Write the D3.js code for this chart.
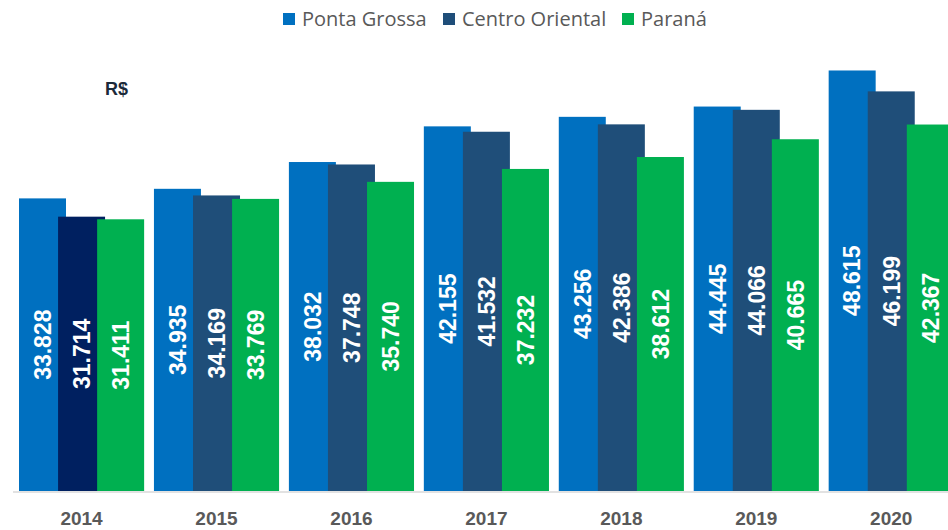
<!doctype html>
<html>
<head>
<meta charset="utf-8">
<script src="https://d3js.org/d3.v7.min.js"></script>
<style>
  body { margin: 0; background: #fff; }
  text { font-family: "Liberation Sans", Arial, sans-serif; }
</style>
</head>
<body>
<svg width="948" height="530"></svg>
<script>
// dados
var anos = ["2014", "2015", "2016", "2017", "2018", "2019", "2020"];
var series = ["Ponta Grossa", "Centro Oriental", "Paraná"];
var pontaGrossa    = [33.828, 34.935, 38.032, 42.155, 43.256, 44.445, 48.615];
var centroOriental = [31.714, 34.169, 37.748, 41.532, 42.386, 44.066, 46.199];
var parana         = [31.411, 33.769, 35.740, 37.232, 38.612, 40.665, 42.367];
var valores = [pontaGrossa, centroOriental, parana];

var cores = ["#0070C0", "#1F4E79", "#00B050"];

var svg = d3.select("svg");

var baseY = 491;

// escala dos grupos (anos)
var x0 = d3.scaleBand()
    .domain(anos)
    .range([19, 953.8])
    .paddingInner(0.0727)
    .paddingOuter(0);

var barW = 47;
// barras se sobrepõem um pouco dentro do grupo
var x1 = d3.scalePoint()
    .domain(series)
    .range([0, x0.bandwidth() - barW]);

var y = d3.scaleLinear()
    .domain([0, 50])
    .range([baseY, baseY - 50 * 8.65]);

// linha do eixo
svg.append("line")
   .attr("x1", 13).attr("x2", 948)
   .attr("y1", baseY + 1).attr("y2", baseY + 1)
   .attr("stroke", "#d9d9d9")
   .attr("stroke-width", 1.5);

var dados = [];
series.forEach(function(s, i) {
    anos.forEach(function(a, j) {
        dados.push({serie: s, idx: i, ano: a, v: valores[i][j]});
    });
});

var g = svg.append("g");

g.selectAll("rect")
 .data(dados)
 .enter()
 .append("rect")
 .attr("x", function(d) { return x0(d.ano) + x1(d.serie); })
 .attr("y", function(d) { return y(d.v); })
 .attr("width", barW)
 .attr("height", function(d) { return baseY - y(d.v); })
 .attr("fill", function(d) {
     // 2014 Centro Oriental aparece mais escuro
     if (d.idx === 1 && d.ano === "2014") return "#002060";
     return cores[d.idx];
 });

g.selectAll(".rotulo")
 .data(dados)
 .enter()
 .append("text")
 .attr("class", "rotulo")
 .attr("transform", function(d) {
     var cx = x0(d.ano) + x1(d.serie) + barW / 2;
     var cy = (y(d.v) + baseY) / 2;
     return "translate(" + cx + "," + cy + ") rotate(-90)";
 })
 .attr("text-anchor", "middle")
 .attr("dy", "0.36em")
 .attr("fill", "#fff")
 .attr("font-weight", "bold")
 .attr("font-size", "23px")
 .text(function(d) { return d.v.toFixed(3); });

// rótulos dos anos
svg.append("g")
   .selectAll("text")
   .data(anos)
   .enter()
   .append("text")
   .attr("x", function(d) { return x0(d) + x0.bandwidth() / 2; })
   .attr("y", 525)
   .attr("text-anchor", "middle")
   .attr("font-weight", "bold")
   .attr("font-size", "19px")
   .attr("fill", "#595959")
   .text(function(d) { return d; });

// R$
svg.append("text")
   .attr("x", 105).attr("y", 95)
   .attr("font-weight", "bold")
   .attr("font-size", "18px")
   .attr("fill", "#1c2a3a")
   .text("R$");

// legenda
var legX = [283, 443, 622];
var leg = svg.append("g");
series.forEach(function(s, i) {
    leg.append("rect")
       .attr("x", legX[i]).attr("y", 13)
       .attr("width", 12).attr("height", 12)
       .attr("fill", cores[i]);
    leg.append("text")
       .attr("x", legX[i] + 19).attr("y", 26)
       .style("font-family", "'Open Sans', sans-serif")
       .style("font-size", "20px")
       .attr("fill", "#595959")
       .text(s);
});
</script>
</body>
</html>
